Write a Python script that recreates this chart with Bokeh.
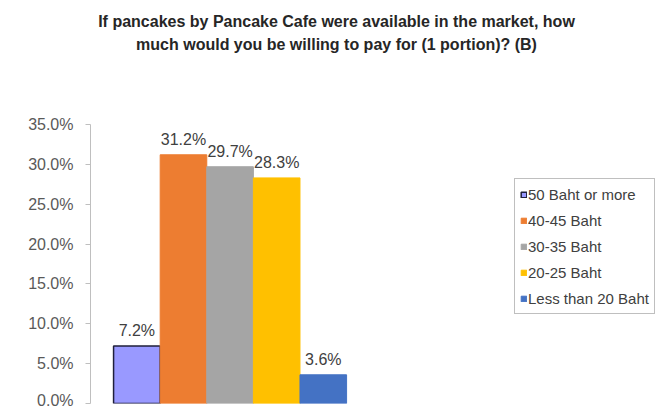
from bokeh.plotting import figure
from bokeh.layouts import column
from bokeh.models import ColumnDataSource, Range1d, NumeralTickFormatter, FixedTicker, Legend, LegendItem, LabelSet, Label
from bokeh.core.properties import value
from bokeh.embed import file_html
from bokeh.resources import INLINE

categories = ["50 Baht or more", "40-45 Baht", "30-35 Baht", "20-25 Baht", "Less than 20 Baht"]
values = [0.072, 0.312, 0.297, 0.283, 0.036]
labels = ["7.2%", "31.2%", "29.7%", "28.3%", "3.6%"]
colors = ["#9999FF", "#ED7D31", "#A5A5A5", "#FFC000", "#4472C4"]
line_colors = ["#1F1F3A", "#ED7D31", "#A5A5A5", "#FFC000", "#4472C4"]
y_ticks = [0, 0.05, 0.10, 0.15, 0.20, 0.25, 0.30, 0.35]
title_lines = ["If pancakes by Pancake Cafe were available in the market, how",
               "much would you be willing to pay for (1 portion)? (B)"]

xs = [i + 1 for i in range(len(categories))]

# --- title strip ---
t = figure(width=656, height=64, output_backend="svg", toolbar_location=None,
           x_range=Range1d(0, 1), y_range=Range1d(0, 1),
           x_axis_location=None, y_axis_location=None)
t.min_border_left = 0
t.min_border_right = 0
t.min_border_top = 0
t.min_border_bottom = 0
t.outline_line_color = None
t.xgrid.visible = False
t.ygrid.visible = False
for k, line in enumerate(title_lines):
    t.add_layout(Label(x=246, y=43.5 - 23 * k, x_units="screen", y_units="screen", text=line,
                       text_align="center", text_baseline="middle", text_font="Liberation Sans",
                       text_font_size="16px", text_font_style="bold", text_color="#262626"))

# --- chart ---
p = figure(width=656, height=344, output_backend="svg", toolbar_location=None,
           x_range=Range1d(0.005, 12.15), y_range=Range1d(0, 0.35))
p.min_border_left = 90
p.min_border_right = 0
p.min_border_bottom = 5
p.min_border_top = 60
p.outline_line_color = None
p.xgrid.visible = False
p.ygrid.visible = False
p.xaxis.visible = False

p.yaxis.ticker = FixedTicker(ticks=y_ticks)
p.yaxis.formatter = NumeralTickFormatter(format="0.0%")
p.yaxis.axis_line_color = "#BFBFBF"
p.yaxis.major_tick_line_color = "#BFBFBF"
p.yaxis.major_tick_in = 0
p.yaxis.major_tick_out = 5
p.yaxis.minor_tick_line_color = None
p.yaxis.major_label_text_font = "Liberation Sans"
p.yaxis.major_label_text_font_size = "16px"
p.yaxis.major_label_text_color = "#595959"
p.yaxis.major_label_standoff = 12

items = []
for i, cat in enumerate(categories):
    src = ColumnDataSource(dict(x=[xs[i]], top=[values[i]]))
    r = p.vbar(x="x", top="top", width=1.0, bottom=0, source=src,
               fill_color=colors[i], line_color=line_colors[i], line_width=1.5 if i == 0 else 1)
    items.append(LegendItem(label=cat, renderers=[r]))

lsrc = ColumnDataSource(dict(x=xs, y=values, t=labels))
p.add_layout(LabelSet(x="x", y="y", text="t", source=lsrc, text_align="center",
                      text_baseline="bottom", y_offset=7, text_font=value("Liberation Sans"),
                      text_font_size=value("16px"), text_color=value("#404040")))

legend = Legend(items=items, location=(424, 89))
legend.label_text_font = "Liberation Sans"
legend.label_text_font_size = "15px"
legend.label_text_color = "#404040"
legend.glyph_width = 7
legend.glyph_height = 7
legend.label_standoff = 1
legend.spacing = 6
legend.label_height = 20
legend.padding = 5
legend.margin = 0
legend.border_line_color = "#808080"
legend.border_line_width = 1
legend.background_fill_alpha = 1
p.add_layout(legend, "center")

layout = column(t, p)
open("out.html", "w").write(file_html(layout, INLINE))
